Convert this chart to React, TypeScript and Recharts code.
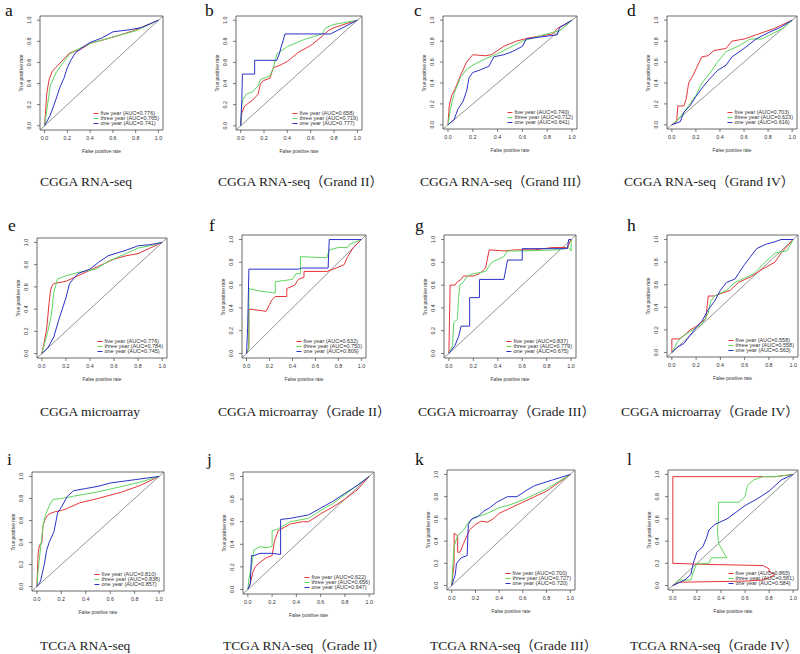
import React from "react";
import { LineChart, Line, XAxis, YAxis, ReferenceArea, ReferenceLine } from "recharts";

type Pt = [number, number];

const RED = "#e5353a";
const GREEN = "#5fd65f";
const BLUE = "#2a32c6";
const TICKS = [0, 0.2, 0.4, 0.6, 0.8, 1];
const SERIES_NAMES = ["five year", "three year", "one year"];

// CGGA RNA-seq
const aFive: Pt[] = [[0, 0], [0.01, 0.15], [0.02, 0.31], [0.04, 0.44], [0.07, 0.52], [0.15, 0.61], [0.22, 0.69], [0.31, 0.72], [0.4, 0.78], [0.57, 0.83], [0.78, 0.9], [1, 1]];
const aThree: Pt[] = [[0, 0], [0.02, 0.15], [0.05, 0.38], [0.1, 0.5], [0.15, 0.58], [0.22, 0.68], [0.3, 0.73], [0.4, 0.78], [0.6, 0.84], [0.8, 0.9], [1, 1]];
const aOne: Pt[] = [[0, 0], [0.05, 0.1], [0.1, 0.25], [0.14, 0.38], [0.17, 0.45], [0.2, 0.55], [0.23, 0.62], [0.27, 0.69], [0.33, 0.74], [0.4, 0.79], [0.5, 0.83], [0.6, 0.89], [0.75, 0.91], [0.85, 0.93], [1, 1]];
const aAuc = ["0.776", "0.765", "0.741"];

// CGGA RNA-seq Grade II
const bFive: Pt[] = [[0, 0], [0.01, 0.12], [0.03, 0.18], [0.06, 0.21], [0.1, 0.24], [0.15, 0.3], [0.17, 0.4], [0.2, 0.43], [0.25, 0.45], [0.28, 0.55], [0.35, 0.58], [0.4, 0.61], [0.5, 0.7], [0.6, 0.76], [0.7, 0.85], [0.75, 0.9], [0.8, 0.93], [1, 1]];
const bThree: Pt[] = [[0, 0], [0.01, 0.2], [0.02, 0.25], [0.05, 0.3], [0.1, 0.32], [0.15, 0.38], [0.17, 0.44], [0.25, 0.47], [0.28, 0.55], [0.31, 0.68], [0.4, 0.75], [0.55, 0.82], [0.7, 0.87], [0.73, 0.93], [0.8, 0.96], [1, 1]];
const bOne: Pt[] = [[0, 0], [0.01, 0.25], [0.015, 0.49], [0.12, 0.49], [0.12, 0.62], [0.31, 0.62], [0.33, 0.68], [0.38, 0.87], [0.77, 0.87], [1, 1]];
const bAuc = ["0.658", "0.719", "0.777"];

// CGGA RNA-seq Grade III
const cFive: Pt[] = [[0, 0], [0.01, 0.18], [0.03, 0.28], [0.06, 0.35], [0.1, 0.47], [0.15, 0.6], [0.2, 0.67], [0.3, 0.66], [0.35, 0.67], [0.45, 0.75], [0.55, 0.8], [0.65, 0.83], [0.85, 0.87], [0.88, 0.92], [1, 1]];
const cThree: Pt[] = [[0, 0], [0.02, 0.15], [0.05, 0.3], [0.1, 0.45], [0.15, 0.53], [0.2, 0.57], [0.3, 0.63], [0.4, 0.68], [0.5, 0.74], [0.6, 0.8], [0.8, 0.87], [0.9, 0.9], [1, 1]];
const cOne: Pt[] = [[0, 0], [0.05, 0.05], [0.08, 0.15], [0.12, 0.22], [0.15, 0.32], [0.17, 0.45], [0.2, 0.5], [0.25, 0.52], [0.33, 0.56], [0.37, 0.65], [0.45, 0.67], [0.52, 0.7], [0.6, 0.75], [0.63, 0.82], [0.75, 0.84], [0.88, 0.86], [0.9, 0.93], [1, 1]];
const cAuc = ["0.740", "0.712", "0.641"];

// CGGA RNA-seq Grade IV
const dFive: Pt[] = [[0, 0], [0.04, 0.03], [0.05, 0.18], [0.1, 0.18], [0.12, 0.25], [0.14, 0.4], [0.18, 0.48], [0.22, 0.58], [0.25, 0.65], [0.3, 0.66], [0.35, 0.71], [0.45, 0.73], [0.5, 0.8], [0.6, 0.82], [0.7, 0.86], [0.85, 0.92], [1, 1]];
const dThree: Pt[] = [[0, 0], [0.05, 0.05], [0.1, 0.12], [0.15, 0.2], [0.2, 0.28], [0.25, 0.4], [0.32, 0.5], [0.38, 0.6], [0.45, 0.7], [0.55, 0.75], [0.65, 0.82], [0.75, 0.82], [0.85, 0.88], [0.92, 0.92], [1, 1]];
const dOne: Pt[] = [[0, 0], [0.07, 0.03], [0.1, 0.12], [0.15, 0.18], [0.2, 0.27], [0.25, 0.35], [0.3, 0.42], [0.38, 0.52], [0.45, 0.57], [0.5, 0.65], [0.6, 0.73], [0.7, 0.82], [0.8, 0.88], [0.9, 0.93], [1, 1]];
const dAuc = ["0.703", "0.623", "0.616"];

// CGGA microarray
const eFive: Pt[] = [[0, 0], [0.02, 0.1], [0.04, 0.22], [0.06, 0.45], [0.07, 0.55], [0.08, 0.6], [0.1, 0.63], [0.2, 0.65], [0.3, 0.7], [0.4, 0.75], [0.5, 0.8], [0.6, 0.85], [0.7, 0.88], [0.8, 0.9], [0.9, 0.95], [1, 1]];
const eThree: Pt[] = [[0, 0], [0.02, 0.08], [0.05, 0.2], [0.08, 0.35], [0.1, 0.55], [0.13, 0.67], [0.2, 0.7], [0.3, 0.73], [0.45, 0.76], [0.55, 0.83], [0.7, 0.9], [0.8, 0.95], [0.9, 0.97], [1, 1]];
const eOne: Pt[] = [[0, 0], [0.05, 0.05], [0.1, 0.15], [0.14, 0.3], [0.17, 0.4], [0.2, 0.5], [0.23, 0.63], [0.3, 0.72], [0.4, 0.76], [0.47, 0.82], [0.55, 0.88], [0.7, 0.93], [0.8, 0.97], [0.9, 0.98], [1, 1]];
const eAuc = ["0.776", "0.784", "0.745"];

// CGGA microarray Grade II
const fFive: Pt[] = [[0, 0], [0.02, 0.05], [0.02, 0.39], [0.1, 0.38], [0.17, 0.37], [0.2, 0.43], [0.22, 0.47], [0.25, 0.5], [0.35, 0.5], [0.35, 0.57], [0.42, 0.6], [0.45, 0.65], [0.5, 0.67], [0.5, 0.72], [0.7, 0.72], [0.78, 0.75], [0.85, 0.78], [0.88, 0.85], [0.93, 0.93], [1, 1]];
const fThree: Pt[] = [[0, 0], [0.02, 0.05], [0.02, 0.57], [0.1, 0.55], [0.25, 0.53], [0.25, 0.63], [0.4, 0.65], [0.43, 0.7], [0.47, 0.7], [0.47, 0.85], [0.7, 0.84], [0.72, 0.91], [0.8, 0.93], [0.88, 0.93], [0.9, 0.96], [1, 1]];
const fOne: Pt[] = [[0, 0], [0.01, 0.25], [0.02, 0.74], [0.45, 0.74], [0.48, 0.75], [0.71, 0.75], [0.72, 1], [1, 1]];
const fAuc = ["0.632", "0.750", "0.809"];

// CGGA microarray Grade III
const gFive: Pt[] = [[0, 0], [0.01, 0.6], [0.05, 0.6], [0.07, 0.63], [0.1, 0.65], [0.12, 0.68], [0.2, 0.68], [0.25, 0.7], [0.3, 0.75], [0.33, 0.91], [0.45, 0.9], [0.55, 0.91], [0.7, 0.91], [0.85, 0.93], [0.97, 0.93], [1, 1]];
const gThree: Pt[] = [[0, 0], [0.03, 0.07], [0.04, 0.27], [0.07, 0.3], [0.08, 0.5], [0.09, 0.6], [0.12, 0.63], [0.15, 0.68], [0.2, 0.7], [0.3, 0.72], [0.35, 0.8], [0.45, 0.85], [0.48, 0.9], [0.6, 0.9], [0.9, 0.91], [0.98, 0.93], [1, 0.9], [1, 1]];
const gOne: Pt[] = [[0, 0], [0.05, 0.07], [0.08, 0.15], [0.1, 0.24], [0.17, 0.24], [0.17, 0.49], [0.25, 0.49], [0.25, 0.65], [0.45, 0.65], [0.48, 0.82], [0.6, 0.82], [0.6, 0.92], [0.97, 0.92], [0.98, 1], [1, 1]];
const gAuc = ["0.837", "0.779", "0.675"];

// CGGA microarray Grade IV
const hFive: Pt[] = [[0, 0], [0, 0.12], [0.06, 0.12], [0.1, 0.15], [0.15, 0.2], [0.2, 0.23], [0.28, 0.3], [0.3, 0.5], [0.35, 0.5], [0.4, 0.52], [0.48, 0.55], [0.55, 0.62], [0.65, 0.67], [0.75, 0.74], [0.85, 0.8], [0.9, 0.88], [1, 1]];
const hThree: Pt[] = [[0, 0], [0.05, 0.1], [0.1, 0.15], [0.2, 0.22], [0.25, 0.25], [0.3, 0.35], [0.32, 0.45], [0.35, 0.5], [0.45, 0.55], [0.52, 0.62], [0.6, 0.66], [0.68, 0.7], [0.75, 0.78], [0.85, 0.88], [0.95, 0.9], [1, 1]];
const hOne: Pt[] = [[0, 0], [0.05, 0.05], [0.1, 0.08], [0.15, 0.15], [0.2, 0.22], [0.25, 0.28], [0.3, 0.38], [0.35, 0.45], [0.4, 0.55], [0.45, 0.62], [0.52, 0.65], [0.55, 0.7], [0.6, 0.78], [0.65, 0.85], [0.7, 0.92], [0.78, 0.96], [0.85, 0.98], [0.9, 1], [1, 1]];
const hAuc = ["0.558", "0.558", "0.563"];

// TCGA RNA-seq
const iFive: Pt[] = [[0, 0], [0.01, 0.3], [0.02, 0.37], [0.04, 0.4], [0.05, 0.55], [0.07, 0.62], [0.1, 0.66], [0.15, 0.68], [0.2, 0.69], [0.25, 0.71], [0.35, 0.76], [0.5, 0.8], [0.7, 0.86], [0.85, 0.92], [1, 1]];
const iThree: Pt[] = [[0, 0], [0.01, 0.15], [0.03, 0.35], [0.05, 0.55], [0.07, 0.65], [0.1, 0.73], [0.13, 0.79], [0.2, 0.8], [0.3, 0.82], [0.5, 0.86], [0.7, 0.91], [0.85, 0.95], [1, 1]];
const iOne: Pt[] = [[0, 0], [0.03, 0.05], [0.06, 0.2], [0.08, 0.33], [0.1, 0.4], [0.14, 0.5], [0.17, 0.67], [0.2, 0.72], [0.25, 0.82], [0.3, 0.87], [0.4, 0.89], [0.5, 0.91], [0.6, 0.94], [0.8, 0.97], [1, 1]];
const iAuc = ["0.810", "0.838", "0.857"];

// TCGA RNA-seq Grade II
const jFive: Pt[] = [[0, 0], [0.02, 0.05], [0.04, 0.15], [0.06, 0.2], [0.1, 0.24], [0.15, 0.28], [0.2, 0.3], [0.22, 0.43], [0.25, 0.52], [0.3, 0.55], [0.35, 0.58], [0.45, 0.6], [0.5, 0.6], [0.6, 0.67], [0.7, 0.73], [0.8, 0.8], [0.9, 0.88], [1, 1]];
const jThree: Pt[] = [[0, 0], [0.01, 0.1], [0.03, 0.2], [0.05, 0.35], [0.1, 0.38], [0.15, 0.37], [0.2, 0.38], [0.2, 0.52], [0.24, 0.53], [0.27, 0.55], [0.35, 0.6], [0.45, 0.62], [0.5, 0.63], [0.6, 0.7], [0.7, 0.76], [0.8, 0.84], [0.9, 0.92], [1, 1]];
const jOne: Pt[] = [[0, 0], [0.02, 0.05], [0.03, 0.3], [0.05, 0.3], [0.1, 0.32], [0.2, 0.32], [0.27, 0.31], [0.27, 0.62], [0.35, 0.63], [0.4, 0.64], [0.5, 0.66], [0.6, 0.72], [0.7, 0.78], [0.8, 0.85], [0.9, 0.92], [1, 1]];
const jAuc = ["0.622", "0.656", "0.647"];

// TCGA RNA-seq Grade III
const kFive: Pt[] = [[0, 0], [0.02, 0.2], [0.02, 0.47], [0.05, 0.45], [0.05, 0.3], [0.07, 0.3], [0.1, 0.38], [0.15, 0.5], [0.2, 0.55], [0.25, 0.58], [0.3, 0.57], [0.35, 0.6], [0.4, 0.65], [0.5, 0.7], [0.6, 0.75], [0.8, 0.85], [1, 1]];
const kThree: Pt[] = [[0, 0], [0.01, 0.2], [0.02, 0.35], [0.05, 0.45], [0.1, 0.5], [0.15, 0.58], [0.2, 0.62], [0.25, 0.63], [0.3, 0.65], [0.4, 0.7], [0.5, 0.73], [0.6, 0.77], [0.8, 0.87], [1, 1]];
const kOne: Pt[] = [[0, 0], [0.03, 0.1], [0.04, 0.2], [0.08, 0.25], [0.13, 0.27], [0.14, 0.55], [0.17, 0.6], [0.22, 0.62], [0.27, 0.67], [0.32, 0.7], [0.38, 0.75], [0.47, 0.8], [0.55, 0.8], [0.62, 0.85], [0.7, 0.9], [0.85, 0.95], [1, 1]];
const kAuc = ["0.700", "0.727", "0.720"];

// TCGA RNA-seq Grade IV
const lFive: Pt[] = [[0, 0], [0.05, 0.03], [0.6, 0.04], [0.75, 0.05], [0.8, 0.07], [0.85, 0.1], [0.8, 0.12], [0.8, 0.15], [0.75, 0.18], [0.3, 0.19], [0, 0.2], [0, 0.98], [0.7, 0.98], [0.85, 0.98], [1, 1]];
const lThree: Pt[] = [[0, 0], [0.05, 0.05], [0.15, 0.05], [0.17, 0.12], [0.2, 0.2], [0.3, 0.2], [0.32, 0.25], [0.45, 0.25], [0.42, 0.3], [0.38, 0.38], [0.37, 0.5], [0.38, 0.6], [0.38, 0.75], [0.55, 0.75], [0.6, 0.8], [0.62, 0.9], [0.67, 0.95], [0.75, 0.98], [0.85, 0.98], [1, 1]];
const lOne: Pt[] = [[0, 0], [0.1, 0.05], [0.15, 0.1], [0.17, 0.2], [0.2, 0.3], [0.25, 0.35], [0.28, 0.43], [0.3, 0.5], [0.35, 0.55], [0.45, 0.6], [0.55, 0.68], [0.6, 0.72], [0.7, 0.78], [0.8, 0.85], [0.85, 0.9], [0.9, 0.95], [1, 1]];
const lAuc = ["0.865", "0.581", "0.584"];

const letters = ["a", "b", "c", "d", "e", "f", "g", "h", "i", "j", "k", "l"];
const titles = [
  "CGGA RNA-seq",
  "CGGA RNA-seq（Grand II）",
  "CGGA RNA-seq（Grand III）",
  "CGGA RNA-seq（Grand IV）",
  "CGGA microarray",
  "CGGA microarray（Grade II）",
  "CGGA microarray（Grade III）",
  "CGGA microarray（Grade IV）",
  "TCGA RNA-seq",
  "TCGA RNA-seq（Grade II）",
  "TCGA RNA-seq（Grade III）",
  "TCGA RNA-seq（Grade IV）",
];
const curves: Pt[][][] = [
  [aFive, aThree, aOne], [bFive, bThree, bOne], [cFive, cThree, cOne], [dFive, dThree, dOne],
  [eFive, eThree, eOne], [fFive, fThree, fOne], [gFive, gThree, gOne], [hFive, hThree, hOne],
  [iFive, iThree, iOne], [jFive, jThree, jOne], [kFive, kThree, kOne], [lFive, lThree, lOne],
];
const aucs = [aAuc, bAuc, cAuc, dAuc, eAuc, fAuc, gAuc, hAuc, iAuc, jAuc, kAuc, lAuc];

// layout: plot box [x, y, w, h], letter [x, top], title [x, top]
const layout = [
  { box: [40, 16, 123, 114], letter: [5, 0], title: [40, 175] },
  { box: [236, 16, 126, 114], letter: [205, 0], title: [218, 175] },
  { box: [443, 16, 134, 113], letter: [414, 0], title: [420, 175] },
  { box: [667, 16, 130, 113], letter: [627, 0], title: [624, 175] },
  { box: [37, 238, 130, 120], letter: [8, 215], title: [40, 405] },
  { box: [242, 235, 124, 123], letter: [209, 215], title: [218, 405] },
  { box: [444, 235, 132, 123], letter: [415, 215], title: [418, 405] },
  { box: [667, 235, 131, 122], letter: [627, 215], title: [621, 405] },
  { box: [32, 472, 132, 119], letter: [7, 449], title: [40, 639] },
  { box: [243, 472, 131, 122], letter: [207, 449], title: [223, 639] },
  { box: [447, 470, 128, 120], letter: [415, 449], title: [430, 639] },
  { box: [668, 470, 130, 120], letter: [627, 449], title: [630, 639] },
];

const COLORS = [RED, GREEN, BLUE];
const SANS = "'Liberation Sans', Arial, sans-serif";
const SERIF = "'Liberation Serif', 'Times New Roman', 'Noto Sans CJK SC', serif";
const PAD_L = 34;
const PAD_B = 26;
const PAD_T = 4;
const PAD_R = 4;

const XTick = (props: any) => {
  const { x, y, payload } = props;
  return (
    <text x={x} y={y + 3} textAnchor="middle" dominantBaseline="central" fontSize={5.4} fontFamily={SANS} fill="#333">
      {payload.value.toFixed(1)}
    </text>
  );
};

const YTick = (props: any) => {
  const { x, y, payload } = props;
  const tx = x - 4;
  return (
    <text x={tx} y={y} transform={`rotate(-90 ${tx} ${y})`} textAnchor="middle" fontSize={5.4} fontFamily={SANS} fill="#333">
      {payload.value.toFixed(1)}
    </text>
  );
};

const Panel = ({ idx }: { idx: number }) => {
  const [bx, by, bw, bh] = layout[idx].box;
  const [lx, ly] = layout[idx].letter;
  const [tx, ty] = layout[idx].title;
  return (
    <>
      <div style={{ position: "absolute", left: lx, top: ly, fontFamily: SERIF, fontSize: 17.5, lineHeight: "20px", color: "#111" }}>
        {letters[idx]}
      </div>
      <div style={{ position: "absolute", left: bx - PAD_L, top: by - PAD_T }}>
        <LineChart width={bw + PAD_L + PAD_R} height={bh + PAD_T + PAD_B} margin={{ top: PAD_T, right: PAD_R, left: 0, bottom: 0 }}>
          <XAxis type="number" dataKey="x" domain={[-0.04, 1.04]} ticks={TICKS} height={PAD_B} axisLine={false} tickSize={3} tickLine={{ stroke: "#444", strokeWidth: 0.7 }} tick={<XTick />} interval={0} />
          <YAxis type="number" dataKey="y" domain={[-0.04, 1.04]} ticks={TICKS} width={PAD_L} axisLine={false} tickSize={3} tickLine={{ stroke: "#444", strokeWidth: 0.7 }} tick={<YTick />} interval={0} />
          <ReferenceArea x1={-0.04} x2={1.04} y1={-0.04} y2={1.04} fill="#fff" fillOpacity={0} stroke="#444" strokeWidth={0.8} />
          <ReferenceLine segment={[{ x: -0.04, y: -0.04 }, { x: 1.04, y: 1.04 }]} stroke="#666" strokeWidth={0.7} />
          {curves[idx].map((pts, k) => (
            <Line
              key={k}
              data={pts.map(([x, y]) => ({ x, y }))}
              dataKey="y"
              type="linear"
              stroke={COLORS[k]}
              strokeWidth={1}
              dot={false}
              isAnimationActive={false}
            />
          ))}
        </LineChart>
      </div>
      <div style={{ position: "absolute", left: bx - 19, top: by + bh / 2, transform: "translate(-50%, -50%) rotate(-90deg)", fontFamily: SANS, fontSize: 4.8, color: "#333", whiteSpace: "nowrap" }}>
        True positive rate
      </div>
      <div style={{ position: "absolute", left: bx + bw / 2, top: by + bh + 21, transform: "translate(-50%, -50%)", fontFamily: SANS, fontSize: 4.8, color: "#333", whiteSpace: "nowrap" }}>
        False positive rate
      </div>
      <div style={{ position: "absolute", left: bx + bw - 4, top: by + bh - 19.5, transform: "translateX(-100%)", fontFamily: SANS, fontSize: 5.5, color: "#333" }}>
        {SERIES_NAMES.map((name, k) => (
          <div key={k} style={{ display: "flex", alignItems: "center", height: 5, lineHeight: "5px", whiteSpace: "nowrap" }}>
            <span style={{ display: "inline-block", width: 5, height: 1, background: COLORS[k], marginRight: 2 }} />
            {`${name} (AUC=${aucs[idx][k]})`}
          </div>
        ))}
      </div>
      <div style={{ position: "absolute", left: tx, top: ty, fontFamily: SERIF, fontSize: 13.5, lineHeight: "14px", color: "#222", whiteSpace: "nowrap" }}>
        {titles[idx]}
      </div>
    </>
  );
};

export default function App() {
  return (
    <div style={{ position: "absolute", left: 0, top: 0, width: 800, height: 654, background: "#fff", overflow: "hidden" }}>
      {letters.map((_, i) => (
        <Panel key={i} idx={i} />
      ))}
    </div>
  );
}
